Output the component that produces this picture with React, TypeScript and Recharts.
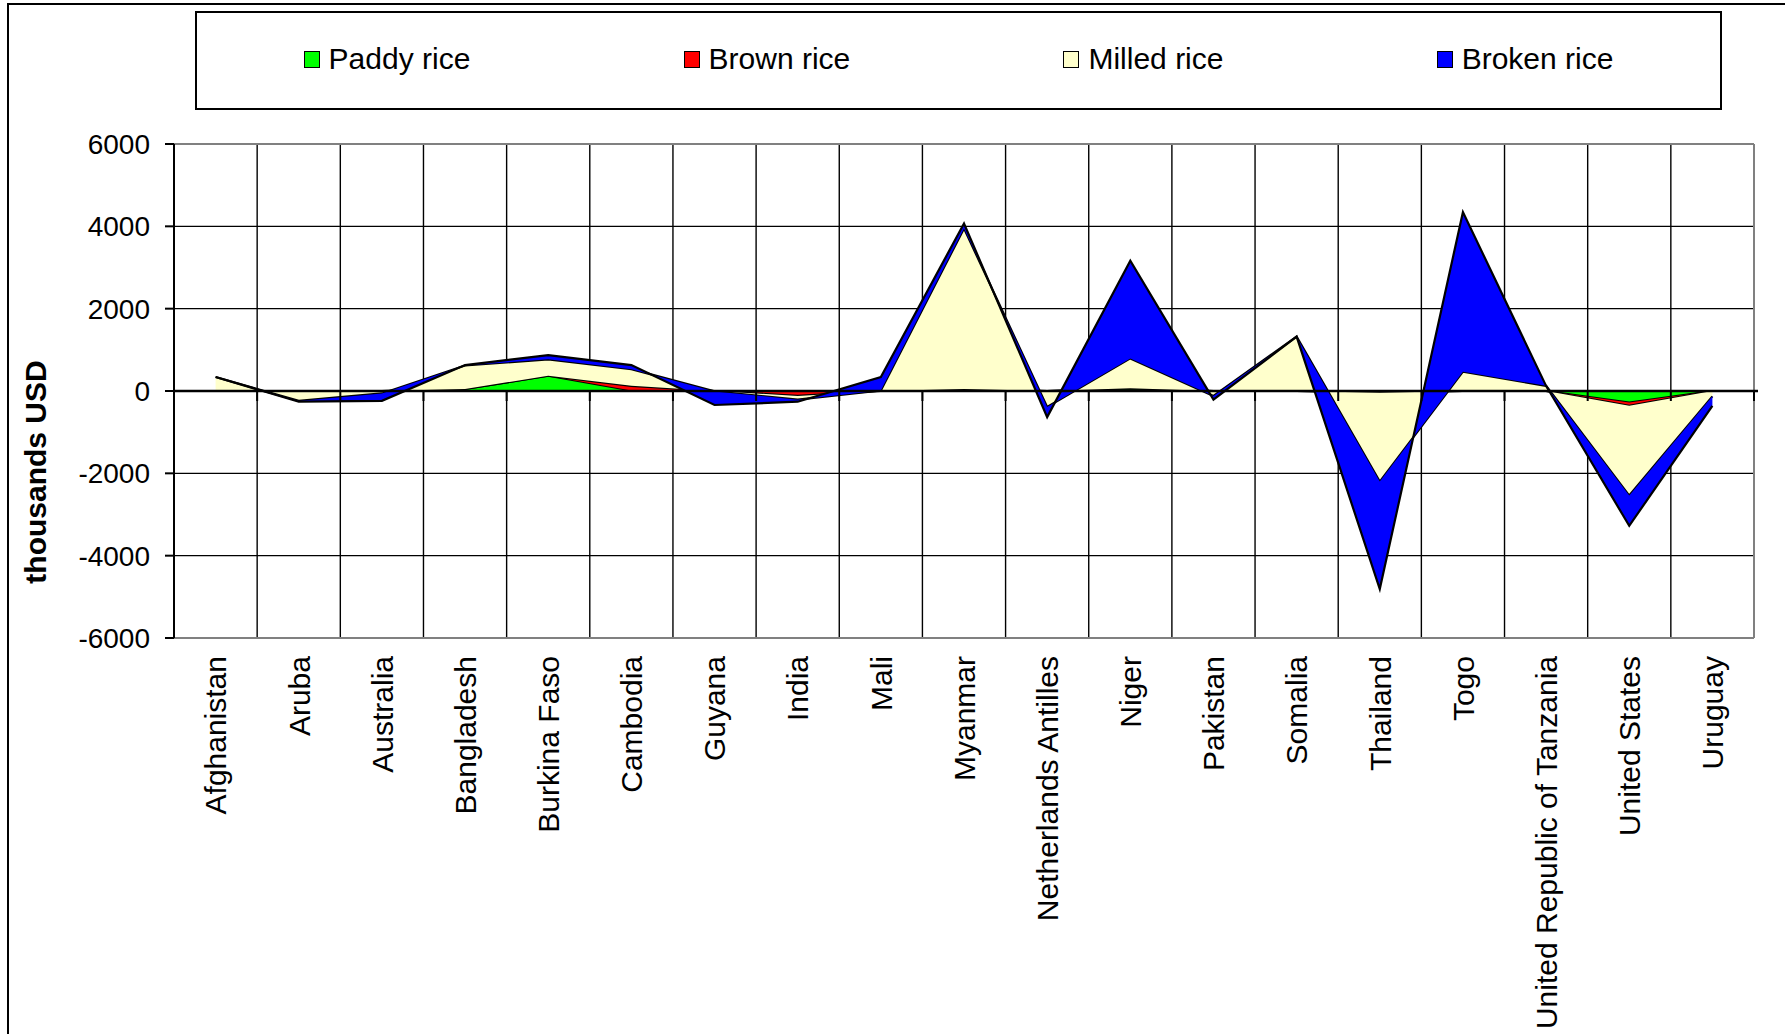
import {
  AreaChart,
  Area,
  XAxis,
  YAxis,
  CartesianGrid,
  Legend,
  ReferenceLine,
  Label,
} from "recharts";

const countries = [
  "Afghanistan",
  "Aruba",
  "Australia",
  "Bangladesh",
  "Burkina Faso",
  "Cambodia",
  "Guyana",
  "India",
  "Mali",
  "Myanmar",
  "Netherlands Antilles",
  "Niger",
  "Pakistan",
  "Somalia",
  "Thailand",
  "Togo",
  "United Republic of Tanzania",
  "United States",
  "Uruguay",
];

// thousands USD
const paddyRice = [0, 0, 0, 50, 370, 15, 0, 0, 0, 50, 0, 65, 0, 0, -30, 0, 0, -280, 0];
const brownRice = [0, 0, 0, 0, 0, 110, 0, -120, 0, 0, 0, 0, 0, 0, -10, 0, 0, -80, 0];
const milledRice = [340, -240, -60, 570, 400, 405, -10, -90, 10, 3900, -390, 727, -120, 1320, -2160, 470, 125, -2180, -130];
const brokenRice = [0, -20, -180, 10, 100, 100, -330, -50, 330, 120, -245, 2374, -90, 0, -2610, 3876, 0, -734, -230];

const yTicks = [-6000, -4000, -2000, 0, 2000, 4000, 6000];
const innerGrid = [-4000, -2000, 0, 2000, 4000];
const outerGrid = [-6000, 6000];

const series = [
  { key: "paddy", name: "Paddy rice", color: "#00FF00", values: paddyRice },
  { key: "brown", name: "Brown rice", color: "#FF0000", values: brownRice },
  { key: "milled", name: "Milled rice", color: "#FFFFCC", values: milledRice },
  { key: "broken", name: "Broken rice", color: "#0000FF", values: brokenRice },
];

const data = countries.map((country, i) => {
  const row: Record<string, string | number> = { country };
  series.forEach((s) => {
    row[s.key] = s.values[i];
  });
  return row;
});

const FONT = "'Liberation Sans', Arial, sans-serif";

const CountryTick = ({ x, y, payload }: any) => (
  <text
    x={x}
    y={y}
    dy="0.36em"
    transform={`rotate(-90, ${x}, ${y})`}
    textAnchor="end"
    fontSize={30}
    fontFamily={FONT}
    fill="#000"
  >
    {payload.value}
  </text>
);

// category axis crossing at zero, with tick marks between categories
const ZeroAxis = ({ x1, x2, y1 }: any) => {
  const step = (x2 - x1) / countries.length;
  return (
    <g>
      <line x1={x1} x2={x2 + 4} y1={y1} y2={y1} stroke="#000" strokeWidth={2.5} />
      {countries.map((c, i) => (
        <line
          key={c}
          x1={x1 + step * (i + 1)}
          x2={x1 + step * (i + 1)}
          y1={y1}
          y2={y1 + 10}
          stroke="#000"
          strokeWidth={2}
        />
      ))}
    </g>
  );
};

const LegendBox = () => (
  <div
    style={{
      boxSizing: "border-box",
      width: "100%",
      height: "100%",
      border: "2px solid #000",
      background: "#fff",
      display: "flex",
      justifyContent: "space-around",
      alignItems: "center",
      paddingBottom: 3,
      fontFamily: FONT,
      fontSize: 30,
      color: "#000",
    }}
  >
    {series.map((s) => (
      <div key={s.key} style={{ display: "flex", alignItems: "center" }}>
        <span
          style={{
            display: "inline-block",
            width: 14,
            height: 15,
            background: s.color,
            border: "1.5px solid #000",
            marginRight: 9,
          }}
        />
        <span>{s.name}</span>
      </div>
    ))}
  </div>
);

const AxisTitle = ({ viewBox }: any) => {
  const x = viewBox.x + 25;
  const y = viewBox.y + viewBox.height / 2 + 81;
  return (
    <text
      x={x}
      y={y}
      dy="0.36em"
      transform={`rotate(-90, ${x}, ${y})`}
      textAnchor="middle"
      fontSize={30}
      fontWeight="bold"
      fontFamily={FONT}
      fill="#000"
    >
      thousands USD
    </text>
  );
};

export default function App() {
  return (
    <div style={{ position: "fixed", inset: 0, overflow: "hidden", background: "#fff" }}>
      <div
        style={{
          position: "absolute",
          left: 7,
          top: 3,
          width: 1778,
          height: 1031,
          borderTop: "2px solid #000",
          borderLeft: "2px solid #000",
          boxSizing: "border-box",
        }}
      />
      <div style={{ position: "absolute", left: 0, top: 0 }}>
        <AreaChart
          width={1785}
          height={1034}
          data={data}
          margin={{ top: 144, right: 31, bottom: 16, left: 10 }}
        >
          <CartesianGrid
            stroke="#000"
            strokeWidth={1.4}
            horizontalValues={innerGrid}
            verticalCoordinatesGenerator={({ offset }: any) =>
              countries.slice(1).map((_, i) => offset.left + ((i + 1) * offset.width) / countries.length)
            }
          />
          {/* plot area frame */}
          <CartesianGrid
            stroke="#808080"
            strokeWidth={2}
            horizontalValues={outerGrid}
            verticalCoordinatesGenerator={({ offset }: any) => [offset.left + offset.width]}
          />
          <XAxis
            dataKey="country"
            interval={0}
            padding={{ left: 41.6, right: 41.6 }}
            height={380}
            tickSize={0}
            tickMargin={18}
            tickLine={false}
            axisLine={{ stroke: "#808080", strokeWidth: 2 }}
            tick={<CountryTick />}
          />
          <YAxis
            type="number"
            domain={[-6000, 6000]}
            ticks={yTicks}
            interval={0}
            width={164}
            tickSize={9}
            tickMargin={15}
            axisLine={{ stroke: "#000", strokeWidth: 2 }}
            tickLine={{ stroke: "#000", strokeWidth: 2 }}
            tick={{ fontSize: 28, fill: "#000", fontFamily: FONT }}
          >
            <Label content={<AxisTitle />} />
          </YAxis>
          {series.map((s) => (
            <Area
              key={s.key}
              type="linear"
              dataKey={s.key}
              name={s.name}
              stackId="rice"
              stroke="#000"
              strokeWidth={2.2}
              fill={s.color}
              fillOpacity={1}
              dot={false}
              activeDot={false}
              isAnimationActive={false}
            />
          ))}
          <ReferenceLine y={0} shape={(p: any) => <ZeroAxis {...p} />} />
          <Legend
            layout="horizontal"
            verticalAlign="middle"
            align="center"
            wrapperStyle={{ top: 11, left: 195, width: 1527, height: 99 }}
            content={() => <LegendBox />}
          />
        </AreaChart>
      </div>
    </div>
  );
}
